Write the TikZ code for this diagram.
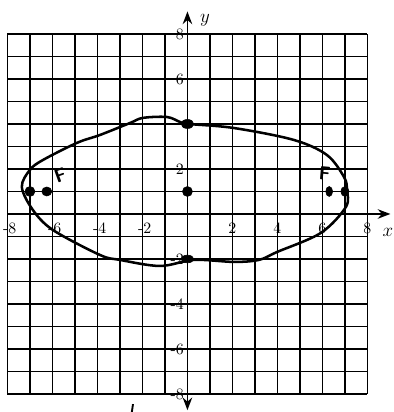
\documentclass[tikz,border=0pt]{standalone}
\usetikzlibrary{arrows.meta}
\begin{document}
\begin{tikzpicture}[x=0.5cm,y=0.5cm,
        gridline/.style={line width=0.8pt},
        axisline/.style={line width=1pt},
        ticklab/.style={font=\normalsize, inner sep=1pt},
        handmark/.style={font=\sffamily\bfseries\large}]
        \useasboundingbox (-8.33,-8.80) rectangle (9.18,9.51);
        \foreach \k in {-8,...,8} {
            \draw[gridline] (\k,-8) -- (\k,8);
            \draw[gridline] (-8,\k) -- (8,\k);
        }
        \coordinate (O) at (0,0);
        \coordinate (xend) at (9.02,0);
        \coordinate (ytop) at (0,9);
        \coordinate (ybot) at (0,-8.72);
        \draw[axisline,-{Stealth[length=8pt,width=6pt]}] (-8,0) -- (xend);
        \draw[axisline,{Stealth[length=8pt,width=6pt]}-{Stealth[length=8pt,width=6pt]}] (ybot) -- (ytop);
        \node[font=\large] (xlab) at (8.91,-0.84) {$x$};
        \node[font=\large] (ylab) at (0.78,8.62) {$y$};
        \foreach \x in {-8,-6,-4,-2}
            \node[ticklab] (xt\x) at (\x+0.1,-0.62) {-\the\numexpr-\x\relax};
        \foreach \x in {2,4,6,8}
            \node[ticklab] (xt\x) at (\x,-0.62) {\x};
        \foreach \y in {8,6,2}
            \node[ticklab, anchor=east] (yt\y) at (-0.08,\y) {\y};
        \foreach \y in {-2,-4,-6,-8}
            \node[ticklab, anchor=east] (yt\y) at (-0.08,\y) {-\the\numexpr-\y\relax};
        % hand-drawn ellipse
        \draw[line width=1.6pt, line join=round] plot[smooth cycle, tension=0.55] coordinates {
            (-7.36,1.2) (-7.0,1.96) (-6.42,2.4) (-4.91,3.16) (-3.89,3.51)
            (-2.56,4.04) (-1.98,4.27) (-0.91,4.31) (-0.33,4.09) (0.07,4.0)
            (2.07,3.82) (4.73,3.29) (6.2,2.62) (6.96,1.64) (7.09,1.07)
            (7.04,0.31) (5.93,-0.84) (3.98,-1.69) (3.18,-2.04) (2.07,-2.13)
            (0.29,-2.04) (-1.22,-2.31) (-3,-2.04) (-3.89,-1.82) (-5.98,-0.71)
            (-6.87,0.18)};
        \filldraw (0,1) circle (0.22);
        \filldraw (0,4) ellipse (0.28 and 0.2);
        \filldraw (0,-2) ellipse (0.28 and 0.17);
        \filldraw (-7,1) circle (0.22);
        \filldraw (-6.25,1) ellipse (0.22 and 0.2);
        \filldraw (6.3,1) ellipse (0.15 and 0.22);
        \filldraw (7,1) ellipse (0.18 and 0.22);
        \node[handmark, rotate=20] (fleft) at (-5.65,1.7) {F};
        \node[handmark, rotate=-5] (fright) at (6.1,1.8) {F};
        \draw[line width=1.2pt] (-2.42,-8.45) -- (-2.47,-8.8);
\end{tikzpicture}
\end{document}
